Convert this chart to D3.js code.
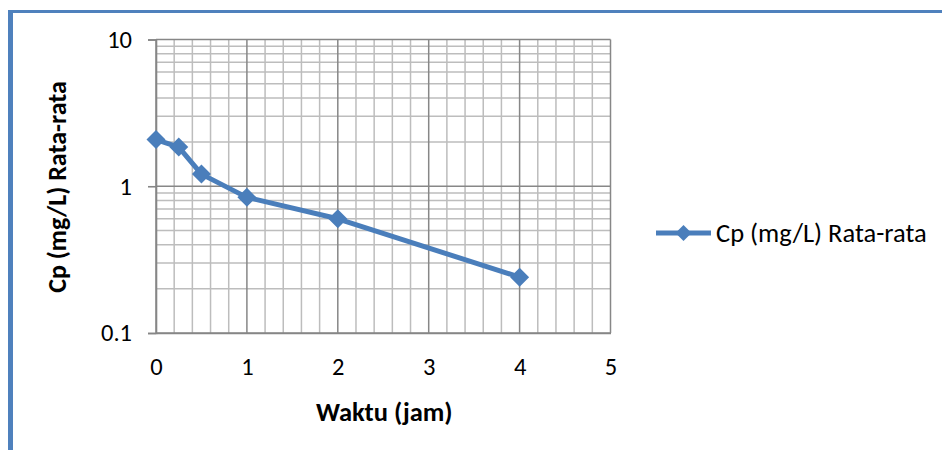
<!DOCTYPE html>
<html><head><meta charset="utf-8">
<script src="https://cdn.jsdelivr.net/npm/d3@7"></script>
<style>html,body{margin:0;padding:0;background:#fff;}svg{display:block;font-family:Carlito,Calibri,"Open Sans",sans-serif;}</style>
</head><body>
<svg id="c" width="942" height="450"></svg>
<script>
const times = [0, 0.25, 0.5, 1, 2, 4];
const cpValues = [2.08, 1.85, 1.21, 0.84, 0.60, 0.24];
const xTicks = [0, 1, 2, 3, 4, 5];
const yTicks = [0.1, 1, 10];
const seriesName = "Cp (mg/L) Rata-rata";
const xTitle = "Waktu (jam)";
const yTitle = "Cp (mg/L) Rata-rata";

const FONT = "Carlito,Calibri,'Open Sans',sans-serif";
const svg = d3.select("#c");
const blue = "#4a7ebb";
const L = 156, R = 610.5, T = 39.5, B = 333;
const x = d3.scaleLinear().domain([0, 5]).range([L, R]);
const y = d3.scaleLog().domain([0.1, 10]).range([B, T]);

// frame
svg.append("rect").attr("x", 8).attr("y", 10).attr("width", 934).attr("height", 3).attr("fill", "#4f81bd");
svg.append("rect").attr("x", 8).attr("y", 10).attr("width", 5).attr("height", 440).attr("fill", "#4f81bd");

const g = svg.append("g");
// minor vertical grid
const xMinor = d3.range(0, 25).map(i => i * 0.2).filter(v => Math.abs(v - Math.round(v)) > 1e-6);
g.selectAll(".xm").data(xMinor).join("line")
  .attr("x1", d => x(d)).attr("x2", d => x(d)).attr("y1", T).attr("y2", B)
  .attr("stroke", "#bdbdbd").attr("stroke-width", 1.5);
// minor horizontal grid
const yMinor = [];
[0.1, 1].forEach(b => { for (let k = 2; k <= 9; k++) yMinor.push(b * k); });
g.selectAll(".ym").data(yMinor).join("line")
  .attr("x1", L).attr("x2", R).attr("y1", d => y(d)).attr("y2", d => y(d))
  .attr("stroke", "#bdbdbd").attr("stroke-width", 1.5);
// major grid
g.selectAll(".xM").data(xTicks).join("line")
  .attr("x1", d => x(d)).attr("x2", d => x(d)).attr("y1", T).attr("y2", B)
  .attr("stroke", "#878787").attr("stroke-width", 1.5);
g.selectAll(".yM").data(yTicks).join("line")
  .attr("x1", L).attr("x2", R).attr("y1", d => y(d)).attr("y2", d => y(d))
  .attr("stroke", "#878787").attr("stroke-width", 1.5);

// axes
const yAxis = d3.axisLeft(y).tickValues(yTicks).tickFormat(d => String(d)).tickSize(8).tickPadding(16);
const ya = svg.append("g").attr("transform", `translate(${L},0)`).call(yAxis);
ya.select(".domain").attr("stroke", "#868686").attr("stroke-width", 1.6);
ya.selectAll(".tick line").attr("stroke", "#868686").attr("stroke-width", 1.6);
ya.selectAll("text").attr("font-size", 24.5).attr("fill", "#000").attr("font-family", FONT);

const xAxis = d3.axisBottom(x).tickValues(xTicks).tickFormat(d3.format("d")).tickSize(0).tickPadding(25);
const xa = svg.append("g").attr("transform", `translate(0,${B})`).call(xAxis);
xa.select(".domain").attr("stroke", "#868686").attr("stroke-width", 1.6);
xa.selectAll("text").attr("font-size", 24.5).attr("fill", "#000").attr("font-family", FONT);

// series
const line = d3.line().x((d, i) => x(times[i])).y(d => y(d));
svg.append("path").datum(cpValues).attr("d", line)
  .attr("fill", "none").attr("stroke", blue).attr("stroke-width", 5).attr("stroke-linejoin", "round");
const diamond = (cx, cy, r) => `M${cx},${cy - r}L${cx + r},${cy}L${cx},${cy + r}L${cx - r},${cy}Z`;
svg.selectAll(".mk").data(cpValues).join("path")
  .attr("d", (d, i) => diamond(x(times[i]), y(d), 9.5)).attr("fill", blue);

// titles
svg.append("text").attr("x", (L + R) / 2 + 1).attr("y", 421).attr("text-anchor", "middle")
  .attr("font-size", 26.5).attr("font-weight", "bold").attr("font-family", FONT).text(xTitle);
svg.append("text").attr("transform", "translate(66,187) rotate(-90)").attr("text-anchor", "middle")
  .attr("font-size", 26).attr("font-weight", "bold").attr("font-family", FONT).text(yTitle);

// legend
svg.append("line").attr("x1", 656).attr("x2", 711).attr("y1", 233).attr("y2", 233)
  .attr("stroke", blue).attr("stroke-width", 5);
svg.append("path").attr("d", diamond(683.5, 233, 8)).attr("fill", blue);
svg.append("text").attr("x", 716).attr("y", 233).attr("dy", "0.33em")
  .attr("font-size", 26.5).attr("font-family", FONT).text(seriesName);
</script>
</body></html>
